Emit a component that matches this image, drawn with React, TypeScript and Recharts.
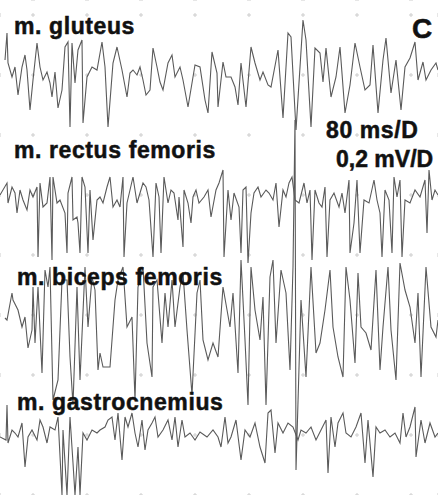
import React from "react";
import { LineChart, Line, XAxis, YAxis, CartesianGrid } from "recharts";

// sample index (≈1.48 ms each) , amplitude (relative units, + = up)
const gluteus: [number, number][] = [
  [5, 15], [7, 42], [8, 12], [12, -2], [15, 8], [18, -20], [22, 8], [25, 20], [27, 5], [30, -35],
  [33, -5], [37, 32], [40, 8], [43, -5], [47, 3], [50, -8], [52, -22], [55, 3], [58, -33], [62, -15],
  [65, 28], [68, 33], [70, -52], [72, 32], [75, -8], [78, 25], [82, 35], [83, -48], [87, -2], [92, 8],
  [97, 5], [102, 33], [105, 8], [108, -52], [113, 12], [117, 28], [122, 5], [127, -22], [130, 2], [133, 5],
  [137, 0], [140, 8], [143, -5], [146, -20], [150, -15], [153, 27], [157, 8], [160, -7], [163, -15], [168, 12],
  [172, 20], [175, -2], [180, 8], [183, -5], [188, -32], [192, -8], [195, 10], [200, 8], [205, -25], [208, -38],
  [212, 23], [217, 2], [218, -32], [223, 13], [226, -2], [231, -2], [235, -12], [238, -30], [241, 12], [246, -32],
  [251, 28], [255, 12], [260, -5], [263, 3], [268, -10], [271, -12], [278, 25], [283, -43], [288, 42], [291, 38],
  [296, -55], [303, 55], [306, 35], [311, -52], [315, 27], [320, 22], [323, -7], [326, 27], [331, -22], [336, -2],
  [340, 28], [345, -38], [350, -10], [355, 32], [360, 8], [365, -15], [370, -10], [373, 30], [378, -38], [383, 15],
  [386, 37], [391, -18], [396, 15], [401, -35], [405, 8], [410, 17], [415, 33], [418, -5], [423, 13], [426, -5],
  [431, 5], [436, 12], [438, 5],
];

const rectusFemoris: [number, number][] = [
  [0, 5], [7, 17], [8, -3], [12, 13], [15, 7], [17, -13], [20, 10], [23, 0], [27, -10], [30, 10],
  [33, 3], [37, 13], [38, -57], [40, 17], [43, -7], [47, -3], [50, 23], [52, -60], [53, 23], [57, -3],
  [60, 0], [65, -13], [67, -53], [68, 7], [72, 23], [73, -20], [77, -17], [78, -23], [80, -53], [82, 23],
  [85, 13], [88, -53], [90, 10], [93, -40], [97, 0], [100, 3], [103, -3], [107, 13], [110, 23], [113, -7],
  [117, 0], [120, -7], [123, 23], [124, -57], [127, -3], [130, 10], [133, 23], [137, -3], [140, 7], [143, 17],
  [146, 13], [149, 0], [153, -57], [156, 17], [159, 3], [161, -53], [164, 23], [168, -3], [171, 10], [174, 7],
  [178, -20], [179, 3], [183, -47], [184, 10], [188, -3], [191, -23], [193, 3], [196, 10], [199, -3], [204, 3],
  [208, 10], [211, -17], [216, 10], [219, 17], [223, 30], [224, -57], [228, 10], [231, -20], [234, 7], [239, -7],
  [241, -53], [243, 10], [246, 13], [248, -63], [251, -13], [254, 7], [258, 13], [261, 3], [266, 10], [269, 7],
  [273, 0], [276, 17], [279, -27], [283, 10], [286, 3], [289, 17], [292, 23], [295, 0], [299, -3], [304, 17],
  [307, -3], [310, 10], [312, -60], [315, 10], [319, -3], [322, -7], [325, 13], [327, -57], [330, 0], [334, 7],
  [339, -7], [342, 7], [345, -13], [349, 20], [350, -53], [354, -23], [357, 20], [360, -53], [364, 0], [369, -3],
  [374, 20], [377, 0], [380, -13], [382, -57], [385, 10], [389, 0], [392, -53], [394, 23], [397, 3], [400, 20],
  [402, -57], [405, 0], [410, -3], [415, 10], [420, 3], [425, 20], [427, -33], [429, 30], [432, 0], [435, 10],
  [438, 5],
];

const bicepsFemoris: [number, number][] = [
  [5, 7], [7, 5], [12, 32], [13, 25], [18, 15], [22, -2], [25, 8], [28, -23], [32, -5], [33, 38],
  [35, -18], [38, 38], [42, -48], [45, 55], [48, 38], [50, 58], [53, -75], [58, -55], [62, 45], [67, 45],
  [70, -32], [73, -80], [77, 38], [80, -55], [85, 58], [88, -2], [92, 48], [95, 35], [98, -45], [100, -28],
  [103, -42], [110, -42], [115, 25], [118, 45], [123, 58], [127, -2], [132, 8], [135, -75], [138, 38], [143, 58],
  [147, -18], [152, -52], [153, 38], [157, 45], [162, -18], [165, 32], [168, -2], [172, 45], [175, -2], [180, 38],
  [183, 52], [187, -5], [192, -70], [197, 32], [200, 45], [203, -15], [208, -35], [213, -18], [218, -32], [223, 38],
  [230, -2], [233, 32], [238, -48], [241, 65], [245, -15], [248, -80], [251, 58], [255, 15], [260, -15], [263, 28],
  [266, -80], [270, 48], [273, 65], [276, -18], [281, 55], [286, 32], [290, -45], [293, 58], [295, 205], [296, -145],
  [301, 25], [306, -52], [311, 58], [316, -28], [320, -18], [325, 15], [330, 55], [333, -2], [338, -32], [343, -52],
  [346, 58], [350, 25], [355, -38], [358, 52], [361, -2], [366, -8], [371, -25], [376, 55], [380, -45], [383, -2],
  [388, 58], [391, -5], [396, -55], [400, 62], [405, 35], [410, 18], [415, -18], [418, 32], [421, -52], [426, 58],
  [431, -2], [436, -12], [438, 5],
];

const gastrocnemius: [number, number][] = [
  [0, 0], [6, -3], [7, 32], [8, -6], [12, 7], [15, 4], [18, 0], [22, 14], [25, -30], [28, 0],
  [32, 7], [37, -3], [40, 17], [43, 10], [47, -6], [50, 10], [55, 7], [58, 20], [62, -58], [63, 7],
  [67, -58], [70, 20], [73, -26], [75, -58], [78, -10], [80, -58], [83, 4], [87, -3], [92, 7], [97, 4],
  [100, 7], [105, 10], [108, 17], [112, 20], [115, -3], [118, 24], [122, -23], [125, 20], [128, 10], [132, 24],
  [135, 4], [138, -10], [142, 17], [145, -13], [148, 7], [152, 14], [155, 20], [158, 0], [163, 7], [168, 17],
  [172, -3], [175, 20], [178, -10], [182, 17], [185, 0], [190, 4], [195, -3], [200, 5], [207, 0], [213, 7],
  [218, 0], [221, -10], [225, 20], [228, -6], [231, 0], [236, 17], [241, -23], [245, 7], [250, 0], [255, 14],
  [260, -10], [265, -26], [268, 24], [271, 27], [275, -16], [278, 14], [283, 4], [288, 14], [293, 10], [298, -3],
  [301, 7], [306, 4], [311, 10], [316, -3], [321, 7], [326, 17], [328, -36], [331, 20], [335, -10], [338, 14],
  [343, 24], [346, 4], [351, 0], [356, 10], [361, 24], [365, -26], [368, 17], [373, -40], [376, 10], [380, 4],
  [385, 7], [390, 0], [395, 4], [400, -6], [403, 24], [406, 0], [410, 10], [415, 30], [416, -20], [421, 17],
  [425, -6], [430, 14], [435, 0], [438, 4],
];

const muscleNames = ["m. gluteus", "m. rectus femoris", "m. biceps femoris", "m. gastrocnemius"];
const scaleLabels = ["80 ms/D", "0,2 mV/D"];
const panelLetter = "C";
const gridTimes = [33, 87, 141, 195, 249, 303, 357, 411];
const gridLevels = [-15, -75, -135, -195, -255, -315, -375, -435, -495];

// layout (vertical position of each trace's zero line, chart px)
const BASELINES = [75, 200, 325, 437];
const LABEL_POS = [
  { x: 14, y: 34 },
  { x: 14, y: 158 },
  { x: 17, y: 285 },
  { x: 17, y: 410 },
];

const W = 438;
const H = 495;

const seriesList = [gluteus, rectusFemoris, bicepsFemoris, gastrocnemius].map((pts, i) =>
  pts.map(([t, a]) => ({ t, v: a - BASELINES[i] }))
);

const FONT = "'Liberation Sans', Arial, Helvetica, sans-serif";
const textStyle = {
  fontFamily: FONT,
  fontWeight: "bold" as const,
  fill: "#111",
  stroke: "#111",
  strokeWidth: 0.5,
};

export default function App() {
  return (
    <div style={{ position: "absolute", left: 0, top: 0, width: W, height: H, background: "#fff" }}>
      <LineChart width={W} height={H} margin={{ top: 0, right: 0, bottom: 0, left: 0 }}>
        <CartesianGrid
          vertical={(p: any) => (
            <line
              key={`v-${p.index}`}
              x1={p.x1}
              x2={p.x2}
              y1={p.y1}
              y2={p.y2}
              stroke="#cdcdcd"
              strokeWidth={1}
              strokeDasharray="4 56"
              strokeDashoffset={47}
            />
          )}
          horizontal={(p: any) => (
            <line
              key={`h-${p.index}`}
              x1={p.x1}
              x2={p.x2}
              y1={p.y1}
              y2={p.y2}
              stroke="#cdcdcd"
              strokeWidth={1}
              strokeDasharray="4 50"
              strokeDashoffset={23}
            />
          )}
        />
        <XAxis type="number" dataKey="t" domain={[0, W]} ticks={gridTimes} hide allowDataOverflow />
        <YAxis type="number" domain={[-H, 0]} ticks={gridLevels} hide allowDataOverflow />
        {seriesList.map((data, i) => (
          <Line
            key={muscleNames[i]}
            data={data}
            dataKey="v"
            type="linear"
            stroke="#5a5a5a"
            strokeWidth={1.1}
            dot={false}
            activeDot={false}
            isAnimationActive={false}
          />
        ))}
      </LineChart>
      <svg
        width={W}
        height={H}
        style={{ position: "absolute", left: 0, top: 0, pointerEvents: "none" }}
      >
        {muscleNames.map((n, i) => (
          <text
            key={n}
            x={LABEL_POS[i].x}
            y={LABEL_POS[i].y}
            fontSize={23}
            letterSpacing={0.6}
            {...textStyle}
          >
            {n}
          </text>
        ))}
        <text x={412} y={38} fontSize={28} {...textStyle}>
          {panelLetter}
        </text>
        <text x={326} y={138} fontSize={23} letterSpacing={0.6} {...textStyle}>
          {scaleLabels[0]}
        </text>
        <text x={336} y={167} fontSize={23} letterSpacing={0} {...textStyle}>
          {scaleLabels[1]}
        </text>
      </svg>
    </div>
  );
}
